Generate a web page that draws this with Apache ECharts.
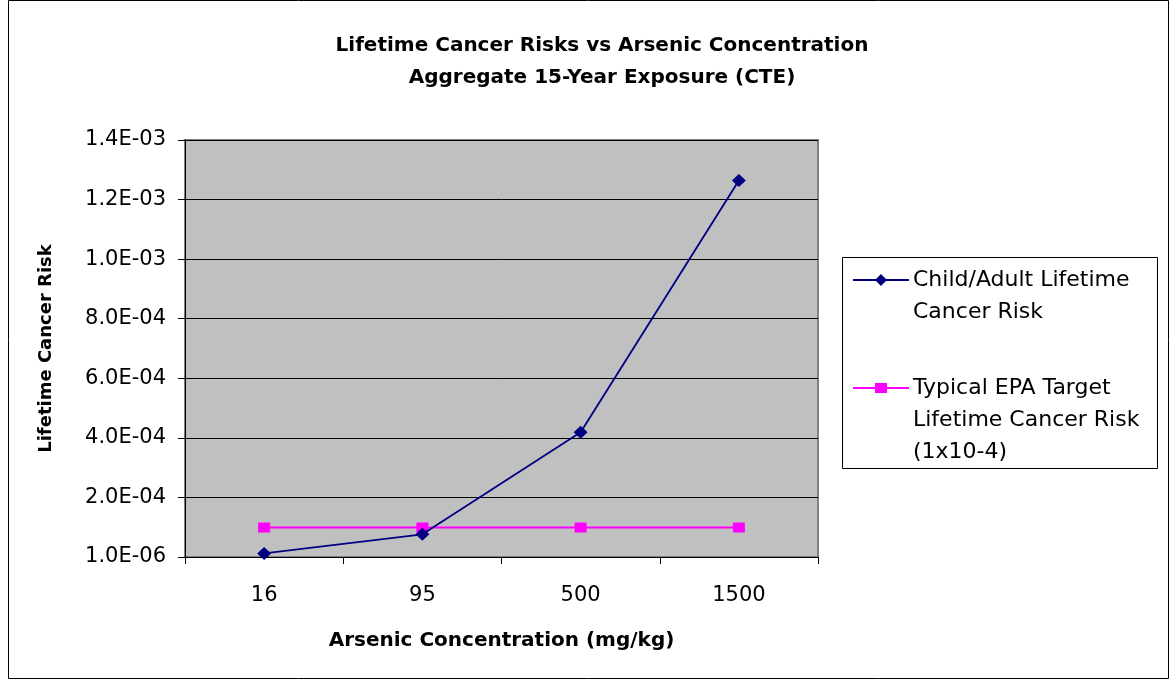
<!DOCTYPE html>
<html><head><meta charset="utf-8">
<script src="https://cdn.jsdelivr.net/npm/echarts@6/dist/echarts.min.js"></script>
<style>html,body{margin:0;padding:0;background:#fff}#c{width:1171px;height:681px}</style>
</head><body><div id="c"></div>
<script>
const titleLines = ['Lifetime Cancer Risks vs Arsenic Concentration', 'Aggregate 15-Year Exposure (CTE)'];
const categories = ['16', '95', '500', '1500'];
const childAdultRisk = [1.3e-5, 7.7e-5, 4.2e-4, 1.265e-3];
const epaTarget = [1e-4, 1e-4, 1e-4, 1e-4];
const seriesNames = ['Child/Adult Lifetime Cancer Risk', 'Typical EPA Target Lifetime Cancer Risk (1x10-4)'];
const legendLines = [['Child/Adult Lifetime', 'Cancer Risk'], ['Typical EPA Target', 'Lifetime Cancer Risk', '(1x10-4)']];
const xName = 'Arsenic Concentration (mg/kg)';
const yName = 'Lifetime Cancer Risk';
const yMin = 1e-6, yMax = 1.401e-3, yStep = 2e-4;
const colors = ['#000080', '#FF00FF'];

const F = '"DejaVu Sans", sans-serif';
function fmt(v) {
  const s = Number(v).toExponential(1).toUpperCase();
  return s.replace(/E([+-])(\d)$/, 'E$10$2');
}
const chart = echarts.init(document.getElementById('c'));
const legendX = 853, legendItemY = [280, 388], lineH = 32;
const legendGraphics = [];
legendGraphics.push({type:'rect', shape:{x:842.5, y:257.5, width:315, height:211}, style:{fill:'#fff', stroke:'#000', lineWidth:1}, z:10});
seriesNames.forEach((n, i) => {
  const y = legendItemY[i];
  legendGraphics.push({type:'line', shape:{x1:legendX, y1:y, x2:legendX+56, y2:y}, style:{stroke:colors[i], lineWidth:1.8}, z:11});
  if (i === 0) {
    legendGraphics.push({type:'polygon', shape:{points:[[legendX+28,y-6],[legendX+34,y],[legendX+28,y+6],[legendX+22,y]]}, style:{fill:colors[i]}, z:12});
  } else {
    legendGraphics.push({type:'rect', shape:{x:legendX+22, y:y-5, width:12, height:10}, style:{fill:colors[i]}, z:12});
  }
  legendLines[i].forEach((t, k) => {
    legendGraphics.push({type:'text', x:913, y:y + k*lineH, style:{text:t, font:'22px ' + F, fill:'#000', textVerticalAlign:'middle', textAlign:'left'}, z:12});
  });
});

chart.setOption({
  animation: false,
  backgroundColor: '#fff',
  title: [
    {text: titleLines[0], left: 597, top: 31, textAlign: 'center', textStyle:{fontFamily:F, fontSize:20, fontWeight:'bold', color:'#000'}},
    {text: titleLines[1], left: 597, top: 63, textAlign: 'center', textStyle:{fontFamily:F, fontSize:20, fontWeight:'bold', color:'#000'}}
  ],
  grid: {left: 185, top: 140, width: 633, height: 417, show: true, backgroundColor: '#C0C0C0', borderColor: '#808080', borderWidth: 2},
  xAxis: {
    type: 'category', data: categories, boundaryGap: true,
    name: xName, nameLocation: 'middle', nameGap: 74,
    nameTextStyle: {fontFamily:F, fontSize:20, fontWeight:'bold', color:'#000'},
    axisLine: {show: true, lineStyle: {color:'#000', width:1}},
    axisTick: {show: true, length: 7, inside: false, alignWithLabel: false, lineStyle:{color:'#000'}},
    axisLabel: {fontFamily:F, fontSize:21, color:'#000', margin: 28},
    splitLine: {show: false}
  },
  yAxis: {
    type: 'value', min: yMin, max: yMax, interval: yStep,
    name: yName, nameLocation: 'middle', nameGap: 130, nameRotate: 90,
    nameTextStyle: {fontFamily:F, fontSize:18, fontWeight:'bold', color:'#000'},
    axisLine: {show: true, lineStyle: {color:'#000', width:1}},
    axisTick: {show: true, length: 7, lineStyle:{color:'#000'}},
    axisLabel: {fontFamily:F, fontSize:21, color:'#000', margin: 19, formatter: fmt},
    splitLine: {show: true, lineStyle: {color:'#000', width:1}}
  },
  series: [
    {name: seriesNames[0], type:'line', data: childAdultRisk, symbol:'diamond', symbolSize: [14, 13],
     itemStyle:{color: colors[0]}, lineStyle:{color: colors[0], width:1.8}, z:3},
    {name: seriesNames[1], type:'line', data: epaTarget, symbol:'rect', symbolSize: [12, 10],
     itemStyle:{color: colors[1]}, lineStyle:{color: colors[1], width:1.8}, z:2}
  ],
  graphic: [
    {type:'rect', shape:{x:8.5, y:0.5, width:1160, height:678}, style:{fill:'none', stroke:'#000', lineWidth:1}, z:0, silent:true}
  ].concat(legendGraphics)
});
</script></body></html>
